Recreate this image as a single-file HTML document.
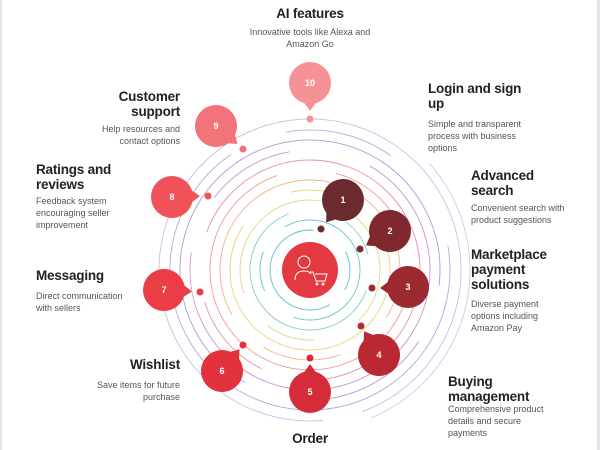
<!DOCTYPE html>
<html><head><meta charset="utf-8"><style>
html,body{margin:0;padding:0;background:#fff;overflow:hidden}
body{width:600px;height:450px;overflow:hidden;position:relative;font-family:"Liberation Sans",sans-serif}
.frame{position:absolute;left:0;top:0;height:450px;border-left:2px solid #e4e4ee;border-right:3px solid #e4e4ee;box-sizing:border-box;width:600px}
.t{position:absolute;font-size:13.5px;font-weight:bold;color:#222;line-height:15px;letter-spacing:-0.2px;white-space:nowrap}
.d{position:absolute;font-size:9px;color:#555;line-height:12px;white-space:nowrap}
.r{text-align:right}.c{text-align:center}
</style></head><body>
<div class="frame"></div>
<svg width="600" height="450" style="position:absolute;left:0;top:0">
<g fill="none" stroke-width="0.9" opacity="0.85">
<circle cx="310" cy="270" r="40" stroke="#3fb3cc" stroke-dasharray="150 40 40 1000" transform="rotate(60 310 270)"/>
<circle cx="310" cy="270" r="50" stroke="#48bcc4" stroke-dasharray="200 40 40 1000" transform="rotate(-120 310 270)"/>
<circle cx="310" cy="270" r="60" stroke="#6cc8a8" stroke-dasharray="240 60 40 1000" transform="rotate(20 310 270)"/>
<circle cx="310" cy="270" r="70" stroke="#c8dc6c" stroke-dasharray="300 50 50 1000" transform="rotate(-200 310 270)"/>
<circle cx="310" cy="270" r="80" stroke="#eccc5c" stroke-dasharray="340 60 60 1000" transform="rotate(-30 310 270)"/>
<circle cx="310" cy="270" r="90" stroke="#f0a868" stroke-dasharray="380 60 80 1000" transform="rotate(150 310 270)"/>
<circle cx="310" cy="270" r="100" stroke="#ee8a80" stroke-dasharray="420 60 90 1000" transform="rotate(10 310 270)"/>
<circle cx="310" cy="270" r="110" stroke="#e27aa0" stroke-dasharray="470 60 90 1000" transform="rotate(-160 310 270)"/>
<circle cx="310" cy="270" r="120" stroke="#c47cc4" stroke-dasharray="520 60 90 1000" transform="rotate(-60 310 270)"/>
<circle cx="310" cy="270" r="130" stroke="#a884d4" stroke-dasharray="560 60 110 1000" transform="rotate(120 310 270)"/>
<circle cx="310" cy="270" r="140" stroke="#a49adc" stroke-dasharray="600 60 110 1000" transform="rotate(-10 310 270)"/>
<circle cx="310" cy="270" r="151" stroke="#b8b4e0" stroke-dasharray="790 40 120 1000" transform="rotate(-230 310 270)"/>
<circle cx="310" cy="270" r="160" stroke="#c4c4e4" stroke-dasharray="300 700" transform="rotate(-40 310 270)"/>
</g>
<circle cx="310" cy="270" r="28" fill="#e23a40"/>
<g stroke="#fff" fill="none" stroke-width="1">
<circle cx="304" cy="262" r="6"/><path d="M295 280 q0 -9 9 -9 q5 0 7 3"/><path d="M310 272 h3 l3 9 h9 l2 -7 h-12"/><circle cx="317" cy="284" r="1"/><circle cx="323" cy="284" r="1"/>
</g>
<g font-family="Liberation Sans" font-size="9" font-weight="bold" fill="#fff" text-anchor="middle">
<g transform="translate(343,200)"><g transform="rotate(127)"><circle r="21" fill="#6b2a2e"/><polygon points="14,-10 28,0 14,10" fill="#6b2a2e"/></g><text y="3">1</text></g>
<g transform="translate(390,231)"><g transform="rotate(149)"><circle r="21" fill="#7f292e"/><polygon points="14,-10 28,0 14,10" fill="#7f292e"/></g><text y="3">2</text></g>
<g transform="translate(408,287)"><g transform="rotate(178)"><circle r="21" fill="#9a2a30"/><polygon points="14,-10 28,0 14,10" fill="#9a2a30"/></g><text y="3">3</text></g>
<g transform="translate(379,355)"><g transform="rotate(238)"><circle r="21" fill="#b92833"/><polygon points="14,-10 28,0 14,10" fill="#b92833"/></g><text y="3">4</text></g>
<g transform="translate(310,392)"><g transform="rotate(-90)"><circle r="21" fill="#d42c38"/><polygon points="14,-10 28,0 14,10" fill="#d42c38"/></g><text y="3">5</text></g>
<g transform="translate(222,371)"><g transform="rotate(-51)"><circle r="21" fill="#e2323e"/><polygon points="14,-10 28,0 14,10" fill="#e2323e"/></g><text y="3">6</text></g>
<g transform="translate(164,290)"><g transform="rotate(3)"><circle r="21" fill="#eb3d46"/><polygon points="14,-10 28,0 14,10" fill="#eb3d46"/></g><text y="3">7</text></g>
<g transform="translate(172,197)"><g transform="rotate(-2)"><circle r="21" fill="#ef5259"/><polygon points="14,-10 28,0 14,10" fill="#ef5259"/></g><text y="3">8</text></g>
<g transform="translate(216,126)"><g transform="rotate(40)"><circle r="21" fill="#f27379"/><polygon points="14,-10 28,0 14,10" fill="#f27379"/></g><text y="3">9</text></g>
<g transform="translate(310,83)"><g transform="rotate(90)"><circle r="21" fill="#f59295"/><polygon points="14,-10 28,0 14,10" fill="#f59295"/></g><text y="3">10</text></g>
</g>
<circle cx="321" cy="229" r="3.5" fill="#6b2a2e"/>
<circle cx="360" cy="249" r="3.5" fill="#7f292e"/>
<circle cx="372" cy="288" r="3.5" fill="#9a2a30"/>
<circle cx="361" cy="326" r="3.5" fill="#b92833"/>
<circle cx="310" cy="358" r="3.5" fill="#d42c38"/>
<circle cx="243" cy="345" r="3.5" fill="#e2323e"/>
<circle cx="200" cy="292" r="3.5" fill="#eb3d46"/>
<circle cx="208" cy="196" r="3.5" fill="#ef5259"/>
<circle cx="243" cy="149" r="3.5" fill="#f27379"/>
<circle cx="310" cy="119" r="3.5" fill="#f59295"/>
</svg>
<div class="t c" style="left:230px;top:6px;width:160px">AI features</div>
<div class="d c" style="left:230px;top:26px;width:160px">Innovative tools like Alexa and<br>Amazon Go</div>
<div class="t" style="left:428px;top:81px">Login and sign<br>up</div>
<div class="d" style="left:428px;top:118px">Simple and transparent<br>process with business<br>options</div>
<div class="t" style="left:471px;top:168px">Advanced<br>search</div>
<div class="d" style="left:471px;top:202px">Convenient search with<br>product suggestions</div>
<div class="t" style="left:471px;top:247px">Marketplace<br>payment<br>solutions</div>
<div class="d" style="left:471px;top:298px">Diverse payment<br>options including<br>Amazon Pay</div>
<div class="t" style="left:448px;top:374px">Buying<br>management</div>
<div class="d" style="left:448px;top:403px">Comprehensive product<br>details and secure<br>payments</div>
<div class="t r" style="left:60px;top:89px;width:120px">Customer<br>support</div>
<div class="d r" style="left:60px;top:123px;width:120px">Help resources and<br>contact options</div>
<div class="t" style="left:36px;top:162px">Ratings and<br>reviews</div>
<div class="d" style="left:36px;top:195px">Feedback system<br>encouraging seller<br>improvement</div>
<div class="t" style="left:36px;top:268px">Messaging</div>
<div class="d" style="left:36px;top:290px">Direct communication<br>with sellers</div>
<div class="t r" style="left:60px;top:357px;width:120px">Wishlist</div>
<div class="d r" style="left:60px;top:379px;width:120px">Save items for future<br>purchase</div>
<div class="t c" style="left:250px;top:431px;width:120px;height:19px;overflow:hidden">Order</div>
</body></html>
